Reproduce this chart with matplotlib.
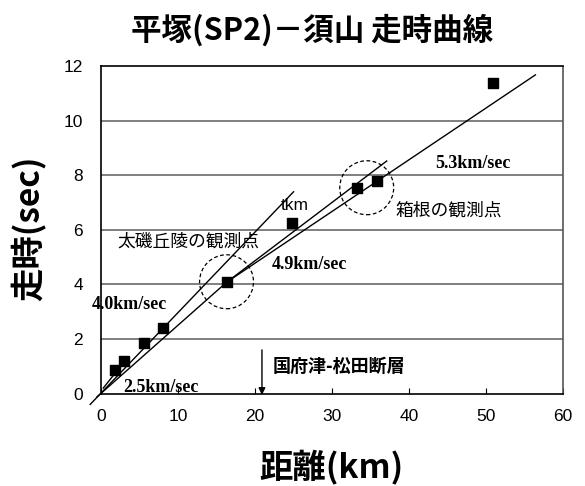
import numpy as np
from matplotlib import pyplot as plt
from matplotlib.patches import Ellipse

plt.rcParams['font.family'] = ['Liberation Sans', 'Noto Sans CJK JP', 'DejaVu Sans']

# observed travel times
dist = [1.8, 3.0, 5.6, 8.0, 16.3, 24.8, 33.3, 35.8, 50.9]
ttime = [0.86, 1.2, 1.84, 2.4, 4.08, 6.27, 7.55, 7.8, 11.38]

# fitted segments (x0, x1), (y0, y1)
seg_x = [[-1.4, 25.0], [-0.5, 16.3], [16.3, 37.1], [16.3, 56.4], [0.3, 3.4]]
seg_y = [[-0.4, 7.4], [-0.12, 4.08], [4.08, 8.53], [4.08, 11.69], [0.2, 1.3]]

# dashed circles around observation sites
circ_x = [16.3, 34.5]
circ_y = [4.1, 7.55]

grid_y = [2, 4, 6, 8, 10]

fig = plt.figure(figsize=(5.85, 4.86), dpi=100)
ax = fig.add_axes([0.1726, 0.1903, 0.79, 0.673])

for gy in grid_y:
    ax.plot([0, 60], [gy, gy], color='#6a6a6a', lw=1.2, zorder=1)

for xs, ys in zip(seg_x, seg_y):
    ax.plot(xs, ys, color='black', lw=1.0, clip_on=False, zorder=2)

ax.scatter(dist, ttime, marker='s', s=60, color='black', zorder=3)

for cx, cy in zip(circ_x, circ_y):
    ax.add_patch(Ellipse((cx, cy), 7.0, 1.98, fill=False, ls=(0, (3, 2)),
                         lw=0.9, color='black'))

serif = dict(family='Liberation Serif', fontweight='bold', fontsize=13)
ax.text(22.2, 4.72, '4.9km/sec', va='center', **serif)
ax.text(-1.2, 3.28, '4.0km/sec', va='center', **serif)
ax.text(2.9, 0.22, '2.5km/sec', va='center', **serif)
ax.text(43.4, 8.44, '5.3km/sec', va='center', **serif)
ax.text(23.3, 6.88, 'tkm', va='center', ha='left', fontsize=12.5)
ax.text(2.1, 5.58, '太磯丘陵の観測点', va='center', fontsize=12.8,
        family=['Noto Sans CJK JP'])
ax.text(38.2, 6.72, '箱根の観測点', va='center', fontsize=12.8,
        family=['Noto Sans CJK JP'])
ax.text(22.3, 1.01, '国府津-松田断層', va='center', fontsize=13,
        fontweight='bold', family=['Noto Sans CJK JP'])
ax.annotate('', xy=(20.9, -0.05), xytext=(20.9, 1.6), annotation_clip=False,
            arrowprops=dict(arrowstyle='-|>', color='black', lw=1.0,
                            mutation_scale=10, shrinkA=0, shrinkB=0))

ax.set_xlim(0, 60)
ax.set_ylim(0, 12)
ax.set_xticks(range(0, 61, 10))
ax.set_yticks(range(0, 13, 2))
ax.tick_params(axis='x', direction='in', length=4, labelsize=12.5, pad=11)
ax.tick_params(axis='y', length=0, labelsize=12.5, pad=13)
ax.spines['top'].set_color('black')
ax.spines['top'].set_linewidth(1.2)
ax.spines['right'].set_color('#555555')
ax.spines['right'].set_linestyle((0, (1.5, 1)))
ax.spines['right'].set_linewidth(1.2)
for s in ['left', 'bottom']:
    ax.spines[s].set_linewidth(1.2)

fig.text(0.534, 0.938, '平塚(SP2)－須山 走時曲線', ha='center', va='center',
         fontsize=22, fontweight='bold', family=['Noto Sans CJK JP'])
fig.text(0.567, 0.037, '距離(km)', ha='center', va='center',
         fontsize=24, fontweight='bold', family=['Noto Sans CJK JP'])
fig.text(0.05, 0.531, '走時(sec)', ha='center', va='center', rotation=90,
         fontsize=24, fontweight='bold', family=['Noto Sans CJK JP'])

fig.savefig('out.png', dpi=100)
